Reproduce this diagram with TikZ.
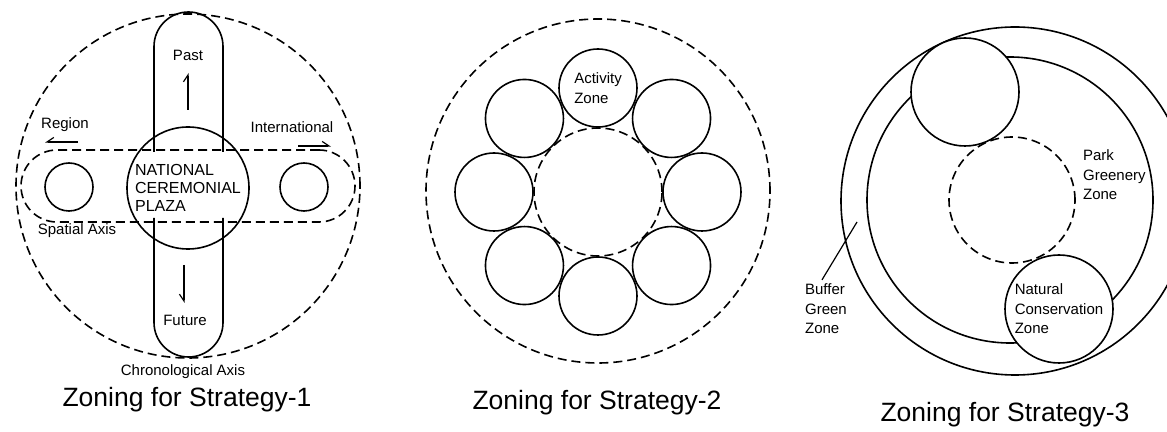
\documentclass[tikz,border=0pt]{standalone}
\usepackage{fontspec}
\setmainfont{Liberation Sans}
\usetikzlibrary{arrows.meta}

\begin{document}
\begin{tikzpicture}[
  x=1pt, y=1pt,
  line width=1.6pt,
  font=\fontsize{15}{19.5}\selectfont,
  zone/.style={draw, circle, inner sep=0pt, align=left},
  bound/.style={draw, circle, inner sep=0pt, dash pattern=on 9pt off 5pt},
  band/.style={draw, rectangle, rounded corners=36pt, dash pattern=on 9pt off 5pt,
    minimum width=334pt, minimum height=72pt},
  tube/.style={rounded corners=34.5pt},
  pointer/.style={-{Straight Barb[harpoon, length=2.4mm, width=3.2mm]}, line width=1.2pt},
  pointerswap/.style={-{Straight Barb[harpoon, swap, length=2.4mm, width=3.2mm]}, line width=1.2pt},
  title/.style={font=\fontsize{26.5}{30}\selectfont}
]
  \useasboundingbox (0,0) rectangle (1167,431);

  % strategy 1
  \node[bound, minimum size=344pt] (site1) at (188,245) {};
  \node[band] (spatial) at (188,245) {};
  \draw[tube] (154,279) -- (154,419) -- (223,419) -- (223,279);
  \draw[tube] (154,213) -- (154,74) -- (223,74) -- (223,213);
  \node[zone, minimum size=122pt, font=\fontsize{16}{18}\selectfont] (plaza) at (188,243) {NATIONAL\\CEREMONIAL\\PLAZA};
  \node[zone, minimum size=48pt] (regional) at (69,244) {};
  \node[zone, minimum size=48pt] (intl) at (304,244) {};
  \node (past) at (188,376) {Past};
  \node (future) at (185,111) {Future};
  \node (region) at (65,306) {Region};
  \node (international) at (292,304) {International};
  \node (spatiallbl) at (77,200) {Spatial Axis};
  \node (chrono) at (183,59) {Chronological Axis};
  \coordinate (past0) at (188,321);
  \coordinate (past1) at (188,358);
  \coordinate (future0) at (184,166);
  \coordinate (future1) at (184,128);
  \coordinate (region0) at (78,289);
  \coordinate (region1) at (45,289);
  \coordinate (intl0) at (298,285);
  \coordinate (intl1) at (331,285);
  \draw[pointer] (past0) -- (past1);
  \draw[pointerswap] (future0) -- (future1);
  \draw[pointerswap] (region0) -- (region1);
  \draw[pointer] (intl0) -- (intl1);
  \node[title] (title1) at (187,31) {Zoning for Strategy-1};

  % strategy 2
  \node[bound, minimum size=344pt] (site2) at (598,240) {};
  \node[bound, minimum size=128pt] (core2) at (598,239) {};
  \node[zone, minimum size=78pt] (act1) at (598,343) {Activity\\Zone};
  \foreach \a [count=\i from 2] in {45,0,-45,-90,-135,180,135}
    \node[zone, minimum size=78pt] (act\i) at ([shift={(\a:104)}]598,239) {};
  \node[title] (title2) at (597,28) {Zoning for Strategy-2};

  % strategy 3
  \node[zone, minimum size=348pt] (buffer) at (1015,230) {};
  \node[zone, minimum size=286pt] (park) at (1010,231) {};
  \node[bound, minimum size=126pt] (core3) at (1012,231) {};
  \node[zone, minimum size=108pt, fill=white] (top3) at (965,339) {};
  \node[zone, minimum size=108pt, fill=white] (nature) at (1059,122) {Natural\\Conservation\\Zone};
  \node[align=left, anchor=west] (parklbl) at (1079,256) {Park\\Greenery\\Zone};
  \node[align=left, anchor=west] (bufferlbl) at (801,122) {Buffer\\Green\\Zone};
  \coordinate (bufferpt) at (857,209);
  \draw[line width=1.2pt] ([xshift=-4pt]bufferlbl.north) -- (bufferpt);
  \node[title] (title3) at (1005,16) {Zoning for Strategy-3};
\end{tikzpicture}
\end{document}
